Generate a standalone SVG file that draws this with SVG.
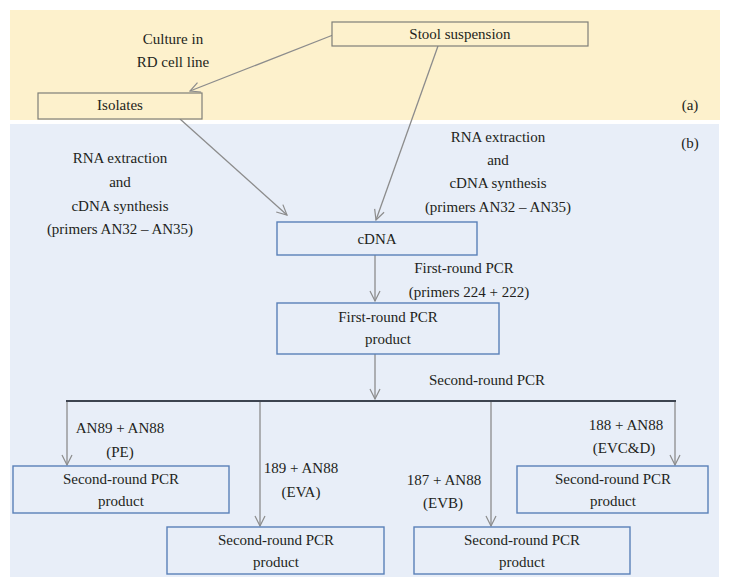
<svg xmlns="http://www.w3.org/2000/svg" width="730" height="588" viewBox="0 0 730 588" font-family="Liberation Serif, Times New Roman, serif">
<defs>
<style>
text{font-size:15px;fill:#231f20;text-anchor:middle}
.ya{fill:#fdf1cc;stroke:#7f7f78;stroke-width:1.2}
.bb{fill:#e8eef8;stroke:#5a80b8;stroke-width:1.4}
.c{stroke:#8c8c8c;stroke-width:1.3;fill:none}
.bar{stroke:#3d4450;stroke-width:2;fill:none}
</style>
<marker id="ah" viewBox="0 0 12 12" refX="11" refY="6" markerWidth="12" markerHeight="12" markerUnits="userSpaceOnUse" orient="auto">
<polyline points="1,1 11,6 1,11" fill="none" stroke="#8c8c8c" stroke-width="1.2"/>
</marker>
</defs>
<rect x="10" y="10" width="710" height="110" fill="#fdf1cc"/>
<rect x="10" y="124" width="709" height="453" fill="#e8eef8"/>
<text x="690" y="110">(a)</text>
<text x="690" y="148">(b)</text>
<g id="connectors">
<line class="c" x1="333" y1="35" x2="190" y2="91" marker-end="url(#ah)"/>
<line class="c" x1="180" y1="119" x2="287" y2="215" marker-end="url(#ah)"/>
<line class="c" x1="438" y1="46" x2="376" y2="220" marker-end="url(#ah)"/>
<line class="c" x1="375" y1="255" x2="375" y2="301" marker-end="url(#ah)"/>
<line class="c" x1="375" y1="354" x2="375" y2="399" marker-end="url(#ah)"/>
<line class="bar" x1="66" y1="401" x2="676" y2="401"/>
<line class="c" x1="67" y1="402" x2="67" y2="465" marker-end="url(#ah)"/>
<line class="c" x1="260" y1="402" x2="260" y2="526" marker-end="url(#ah)"/>
<line class="c" x1="491" y1="402" x2="491" y2="526" marker-end="url(#ah)"/>
<line class="c" x1="675" y1="402" x2="675" y2="465" marker-end="url(#ah)"/>
<text x="173" y="44">Culture in</text>
<text x="173" y="67">RD cell line</text>
<text x="120" y="163">RNA extraction</text>
<text x="120" y="187">and</text>
<text x="120" y="211">cDNA synthesis</text>
<text x="120" y="234">(primers AN32 – AN35)</text>
<text x="498" y="142">RNA extraction</text>
<text x="498" y="165">and</text>
<text x="498" y="188">cDNA synthesis</text>
<text x="498" y="212">(primers AN32 – AN35)</text>
<text x="464" y="273">First-round PCR</text>
<text x="469" y="297">(primers 224 + 222)</text>
<text x="487" y="385">Second-round PCR</text>
<text x="120" y="433">AN89 + AN88</text>
<text x="120" y="457">(PE)</text>
<text x="301" y="473">189 + AN88</text>
<text x="301" y="497">(EVA)</text>
<text x="444" y="485">187 + AN88</text>
<text x="443" y="508">(EVB)</text>
<text x="626" y="430">188 + AN88</text>
<text x="624" y="453">(EVC&amp;D)</text>
</g>
<g id="stool"><rect class="ya" x="332" y="22" width="256" height="24"/><text x="460" y="39">Stool suspension</text></g>
<g id="isolates"><rect class="ya" x="38" y="93" width="164" height="26"/><text x="120" y="110">Isolates</text></g>
<g id="cdna"><rect class="bb" x="277" y="222" width="200" height="33"/><text x="377" y="244">cDNA</text></g>
<g id="first"><rect class="bb" x="277" y="303" width="222" height="51"/><text x="388" y="322">First-round PCR</text><text x="388" y="344">product</text></g>
<g id="pe"><rect class="bb" x="13" y="466" width="216" height="47"/><text x="121" y="484">Second-round PCR</text><text x="121" y="506">product</text></g>
<g id="eva"><rect class="bb" x="167" y="527" width="217" height="47"/><text x="276" y="545">Second-round PCR</text><text x="276" y="567">product</text></g>
<g id="evb"><rect class="bb" x="414" y="527" width="216" height="47"/><text x="522" y="545">Second-round PCR</text><text x="522" y="567">product</text></g>
<g id="evcd"><rect class="bb" x="517" y="466" width="191" height="47"/><text x="613" y="484">Second-round PCR</text><text x="613" y="506">product</text></g>
</svg>
